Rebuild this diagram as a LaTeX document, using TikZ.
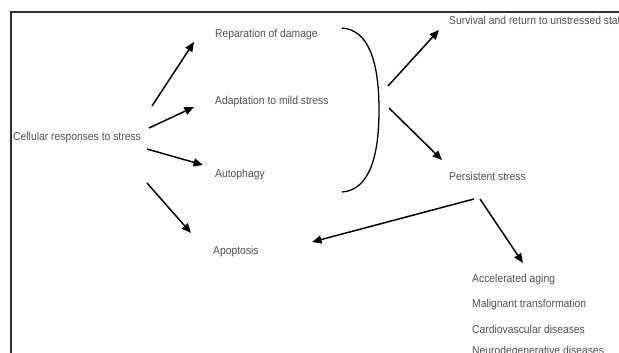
\documentclass[tikz,border=0pt]{standalone}
\usepackage{fontspec}
\setmainfont{Liberation Sans}[FakeStretch=0.9]
\usetikzlibrary{arrows.meta}
\definecolor{txt}{HTML}{505050}
\definecolor{frame}{HTML}{303030}
\tikzset{
  lbl/.style={anchor=base west, inner sep=0pt, text=txt, font=\fontsize{11.5}{13}\selectfont},
  arr/.style={line width=1.5pt, -{Triangle[length=9.5pt,width=8pt]}},
  brk/.style={line width=1.3pt},
  frm/.style={line width=1.6pt, draw=frame}
}
\begin{document}
\begin{tikzpicture}[x=1pt,y=-1pt]
\useasboundingbox (0,0) rectangle (619,353);
\clip (0,0) rectangle (619,353);
\draw[frm] (11,353) -- (11,12) -- (619,12);
% text nodes
\node[lbl] (cell) at (13,140) {Cellular responses to stress};
\node[lbl] (rep) at (215,38) {Reparation of damage};
\node[lbl] (adap) at (215,105) {Adaptation to mild stress};
\node[lbl] (auto) at (215,177.5) {Autophagy};
\node[lbl] (apop) at (213,254) {Apoptosis};
\node[lbl] (surv) at (449,24.5) {Survival and return to unstressed state};
\node[lbl] (pers) at (449,180) {Persistent stress};
\node[lbl] (aging) at (472,282) {Accelerated aging};
\node[lbl] (malig) at (472,307) {Malignant transformation};
\node[lbl] (cardio) at (472,333) {Cardiovascular diseases};
\node[lbl] (neuro) at (472,354) {Neurodegenerative diseases};
% arrow end points
\coordinate (c1) at (152,106); \coordinate (r1) at (194,42);
\coordinate (c2) at (149,128); \coordinate (a2) at (194,107);
\coordinate (c3) at (147,149); \coordinate (u3) at (203,165);
\coordinate (c4) at (147,183); \coordinate (p4) at (191,233);
\coordinate (b5) at (388,86);  \coordinate (s5) at (439,30);
\coordinate (b6) at (389,108); \coordinate (q6) at (442,160);
\coordinate (q7) at (474,199); \coordinate (p7) at (312,242);
\coordinate (q8) at (480,199); \coordinate (g8) at (523,263);
\coordinate (bt) at (342,28); \coordinate (bm) at (379,110); \coordinate (bb) at (342,192);
% bracket
\draw[brk] (bt) .. controls (370,30) and (379,65) .. (bm)
                .. controls (379,155) and (370,190) .. (bb);
% arrows
\draw[arr] (c1) -- (r1);
\draw[arr] (c2) -- (a2);
\draw[arr] (c3) -- (u3);
\draw[arr] (c4) -- (p4);
\draw[arr] (b5) -- (s5);
\draw[arr] (b6) -- (q6);
\draw[arr] (q7) -- (p7);
\draw[arr] (q8) -- (g8);
\end{tikzpicture}
\end{document}
